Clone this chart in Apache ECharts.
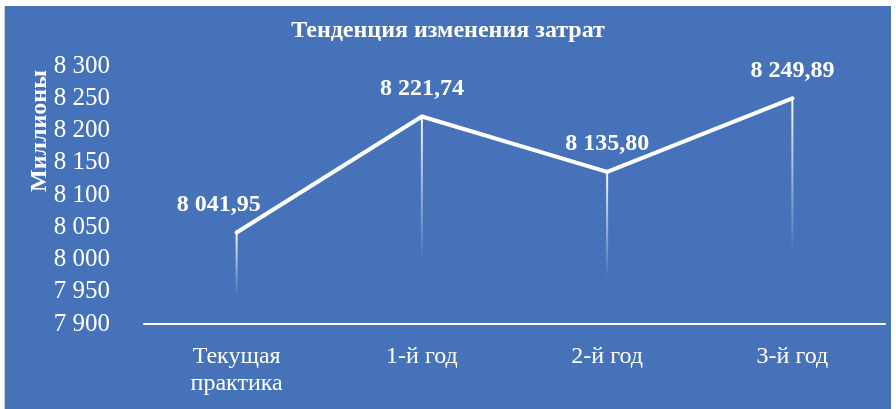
<!DOCTYPE html>
<html>
<head>
<meta charset="utf-8">
<script src="https://cdn.jsdelivr.net/npm/echarts@6/dist/echarts.min.js"></script>
<style>
  html, body { margin: 0; padding: 0; background: #fff; }
  #frame {
    position: absolute; left: 4px; top: 6px; width: 886px; height: 403px;
    background: #4672b9; border-left: 1px solid #c8cdd6;
  }
  #chart { position: absolute; left: 0; top: 0; width: 896px; height: 409px; }
</style>
</head>
<body>
<div id="frame"></div>
<div id="chart"></div>
<script>
  'use strict';

  var categories = ['Текущая\nпрактика', '1-й год', '2-й год', '3-й год'];
  var costs = [8041.95, 8221.74, 8135.80, 8249.89];
  var yMin = 7900;
  var yMax = 8300;
  var yStep = 50;

  // "8 041,95" style numbers
  function fmt(v, dec) {
    var s = v.toFixed(dec).split('.');
    var intPart = s[0].replace(/\B(?=(\d{3})+(?!\d))/g, ' ');
    return dec ? intPart + ',' + s[1] : intPart;
  }

  var myChart = echarts.init(document.getElementById('chart'));

  var option = {
    backgroundColor: 'transparent',
    textStyle: { fontFamily: 'Liberation Serif' },
    title: {
      text: 'Тенденция изменения затрат',
      left: 'center',
      top: 14,
      textStyle: { color: '#fff', fontSize: 24, fontWeight: 'bold', fontFamily: 'Liberation Serif' }
    },
    graphic: [{
      type: 'text',
      x: 40,
      y: 131,
      rotation: Math.PI / 2,
      style: {
        text: 'Миллионы',
        fill: '#fff',
        font: 'bold 24px "Liberation Serif"',
        align: 'center',
        verticalAlign: 'middle'
      }
    }],
    grid: {
      left: 144,
      right: 11,
      top: 66,
      bottom: 85
    },
    xAxis: [{
      type: 'category',
      data: categories,
      axisLine: { lineStyle: { color: '#fff', width: 2 } },
      axisTick: { show: false },
      axisLabel: {
        color: '#fff',
        fontSize: 24,
        lineHeight: 27,
        margin: 19,
        fontFamily: 'Liberation Serif'
      }
    }],
    yAxis: [{
      type: 'value',
      min: yMin,
      max: yMax,
      interval: yStep,
      axisLine: { show: false },
      axisTick: { show: false },
      splitLine: { show: false },
      axisLabel: {
        color: '#fff',
        fontSize: 25,
        margin: 34,
        fontFamily: 'Liberation Serif',
        formatter: function(v) { return fmt(v, 0); }
      }
    }],
    series: [{
        // drop lines
        name: 'drop',
        type: 'bar',
        barWidth: 2,
        silent: true,
        data: costs,
        itemStyle: {
          color: new echarts.graphic.LinearGradient(0, 0, 0, 1, [
            { offset: 0, color: 'rgba(255,255,255,0.95)' },
            { offset: 0.7, color: 'rgba(255,255,255,0)' },
            { offset: 1, color: 'rgba(255,255,255,0)' }
          ])
        }
      },
      {
        name: 'Затраты',
        type: 'line',
        data: costs,
        symbol: 'circle',
        symbolSize: 4,
        lineStyle: { color: '#fff', width: 4 },
        itemStyle: { color: '#fff' },
        z: 3,
        label: {
          show: true,
          position: 'top',
          distance: 14,
          color: '#fff',
          fontSize: 24,
          fontWeight: 'bold',
          fontFamily: 'Liberation Serif',
          formatter: function(p) { return fmt(p.value, 2); }
        },
        labelLayout: function(params) {
          if (params.dataIndex === 0) {
            return { dx: -18 };
          }
          return {};
        }
      }
    ]
  };

  myChart.setOption(option);
</script>
</body>
</html>
